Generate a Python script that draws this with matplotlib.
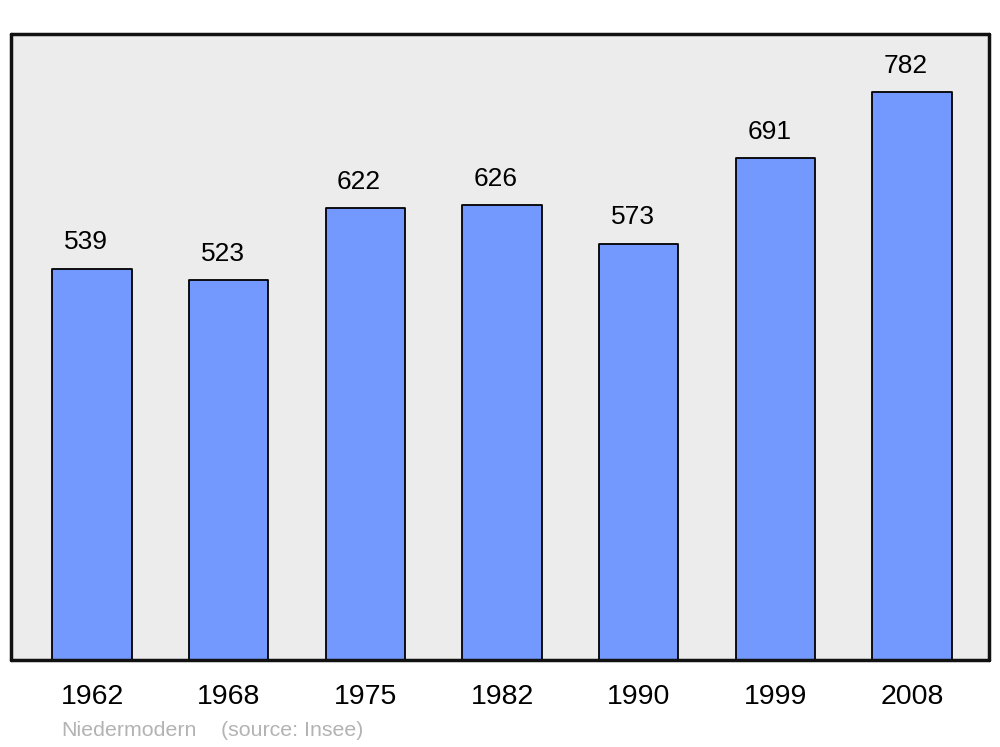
import matplotlib
matplotlib.use("Agg")
import matplotlib.pyplot as plt

years = ["1962", "1968", "1975", "1982", "1990", "1999", "2008"]
population = [539, 523, 622, 626, 573, 691, 782]

plt.rcParams['font.family'] = ['Liberation Sans', 'DejaVu Sans']

fig = plt.figure(figsize=(10, 7.47), dpi=100)
ax = fig.add_axes([0.011, 1 - 660/747, 0.978, (660 - 34)/747])
ax.set_facecolor('#ececec')

x = list(range(len(years)))
bars = ax.bar(x, population, width=0.58, color='#7399ff', edgecolor='black',
              linewidth=1.3, zorder=2)
for b in bars:
    b.set_joinstyle('round')

ax.set_xlim(-0.593, 6.563)
ax.set_ylim(0, 862)

for xi, v in zip(x, population):
    ax.annotate(str(v), (xi, v), xytext=(-4.5, 10.5), textcoords='offset points',
                ha='center', va='bottom', fontsize=19, color='black')

ax.set_xticks(x)
ax.set_xticklabels(years, fontsize=20.5)
ax.tick_params(axis='x', length=0, pad=17)
ax.set_yticks([])

for s in ax.spines.values():
    s.set_linewidth(2.5)
    s.set_color('#111111')
    s.set_capstyle('round')

fig.text(61/1000, 1 - 731/747, "Niedermodern", fontsize=15.4, color='#b3b3b3',
         ha='left', va='center')
fig.text(221/1000, 1 - 731/747, "(source: Insee)", fontsize=15.4, color='#b3b3b3',
         ha='left', va='center')

fig.savefig('out.png', dpi=100)
